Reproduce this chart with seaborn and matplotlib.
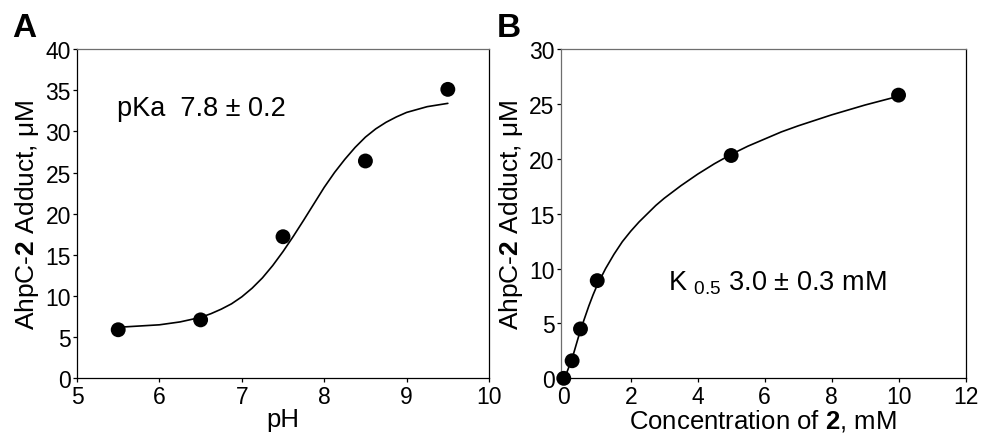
import matplotlib
matplotlib.use("Agg")
import matplotlib.pyplot as plt
import seaborn as sns
import pandas as pd

sns.set_style("ticks")
plt.rcParams['font.family'] = ['Liberation Sans', 'DejaVu Sans']
plt.rcParams['mathtext.fontset'] = 'custom'
plt.rcParams['mathtext.rm'] = 'Liberation Sans'
plt.rcParams['mathtext.bf'] = 'Liberation Sans:bold'
plt.rcParams['text.color'] = 'black'
plt.rcParams['axes.labelcolor'] = 'black'
plt.rcParams['xtick.color'] = 'black'
plt.rcParams['ytick.color'] = 'black'

# panel A: adduct vs pH
ph_points = [5.5, 6.5, 7.5, 8.5, 9.5]
adduct_ph = [5.9, 7.1, 17.2, 26.4, 35.1]
# fitted curve
ph_curve = [5.5, 5.75, 6.0, 6.25, 6.5, 6.625, 6.75, 6.875, 7.0, 7.125,
            7.25, 7.375, 7.5, 7.625, 7.75, 7.875, 8.0, 8.125, 8.25, 8.375,
            8.5, 8.625, 8.75, 8.875, 9.0, 9.125, 9.25, 9.375, 9.5]
adduct_ph_curve = [6.2, 6.35, 6.5, 6.85, 7.4, 7.85, 8.4, 9.05, 9.9, 10.95,
                   12.2, 13.7, 15.4, 17.25, 19.2, 21.2, 23.2, 25.0, 26.6, 28.05,
                   29.3, 30.3, 31.1, 31.75, 32.3, 32.65, 33.0, 33.2, 33.4]

# panel B: adduct vs concentration of 2
conc_points = [0.0, 0.25, 0.5, 1.0, 5.0, 10.0]
adduct_conc = [0.0, 1.6, 4.5, 8.9, 20.3, 25.8]
conc_curve = [0.0, 0.1, 0.25, 0.375, 0.5, 0.625, 0.75, 0.875, 1.0, 1.25,
              1.5, 1.75, 2.0, 2.25, 2.5, 2.75, 3.0, 3.5, 4.0, 4.5,
              5.0, 5.5, 6.0, 6.5, 7.0, 7.5, 8.0, 8.5, 9.0, 9.5, 10.0]
adduct_conc_curve = [0.0, 0.6, 1.8, 3.1, 4.4, 5.5, 6.6, 7.6, 8.5, 10.0,
                     11.3, 12.45, 13.4, 14.25, 15.0, 15.75, 16.4, 17.55, 18.6, 19.55,
                     20.4, 21.15, 21.8, 22.45, 23.0, 23.5, 24.0, 24.45, 24.9, 25.3, 25.7]

pts_a = pd.DataFrame({"x": ph_points, "y": adduct_ph})
fit_a = pd.DataFrame({"x": ph_curve, "y": adduct_ph_curve})
pts_b = pd.DataFrame({"x": conc_points, "y": adduct_conc})
fit_b = pd.DataFrame({"x": conc_curve, "y": adduct_conc_curve})

fig = plt.figure(figsize=(9.81, 4.35), dpi=100)
ax_a = fig.add_axes([0.0785, 0.128, 0.42, 0.757])
ax_b = fig.add_axes([0.5716, 0.128, 0.4126, 0.757])

ylab = r"AhpC-$\mathbf{2}$ Adduct, $\mathrm{\mu}$M"


def style_axes(ax):
    for side in ["left", "right", "bottom", "top"]:
        ax.spines[side].set_visible(True)
        ax.spines[side].set_linewidth(0.9)
        ax.spines[side].set_color("black")
    ax.spines["top"].set_color("#6e6e6e")
    ax.tick_params(direction="out", length=3, width=0.9, labelsize=16.5,
                   color="black", pad=1.5)


sns.lineplot(data=fit_a, x="x", y="y", ax=ax_a, color="black", lw=1.2)
sns.scatterplot(data=pts_a, x="x", y="y", ax=ax_a, color="black", s=115,
                edgecolor="none", zorder=3)
ax_a.set_xlim(5, 10)
ax_a.set_ylim(0, 40)
ax_a.set_xticks([5, 6, 7, 8, 9, 10])
ax_a.set_yticks(range(0, 41, 5))
ax_a.set_xlabel("pH", fontsize=18.5, labelpad=-0.5)
ax_a.set_ylabel(ylab, fontsize=19, labelpad=3)
ax_a.text(5.49, 32.8, "pKa  7.8 ± 0.2", fontsize=19.5, va="center", ha="left")
style_axes(ax_a)

sns.lineplot(data=fit_b, x="x", y="y", ax=ax_b, color="black", lw=1.2)
sns.scatterplot(data=pts_b, x="x", y="y", ax=ax_b, color="black", s=115,
                edgecolor="none", zorder=3, clip_on=False)
ax_b.set_xlim(-0.09, 12)
ax_b.set_ylim(0, 30)
ax_b.set_xticks(range(0, 13, 2))
ax_b.set_yticks(range(0, 31, 5))
ax_b.set_xlabel(r"Concentration of $\mathbf{2}$, mM", fontsize=18.5, labelpad=-0.5)
ax_b.set_ylabel(ylab, fontsize=19, labelpad=3)
ax_b.text(3.11, 8.74, r"K $_{0.5}$ 3.0 ± 0.3 mM", fontsize=19.5,
          va="center", ha="left")
style_axes(ax_b)
ax_b.spines["left"].set_color("#6e6e6e")

fig.text(12 / 981, 1 - 37 / 435, "A", fontsize=24, fontweight="bold",
         va="baseline", ha="left")
fig.text(497 / 981, 1 - 37 / 435, "B", fontsize=24, fontweight="bold",
         va="baseline", ha="left")

fig.savefig("out.png", dpi=100)
